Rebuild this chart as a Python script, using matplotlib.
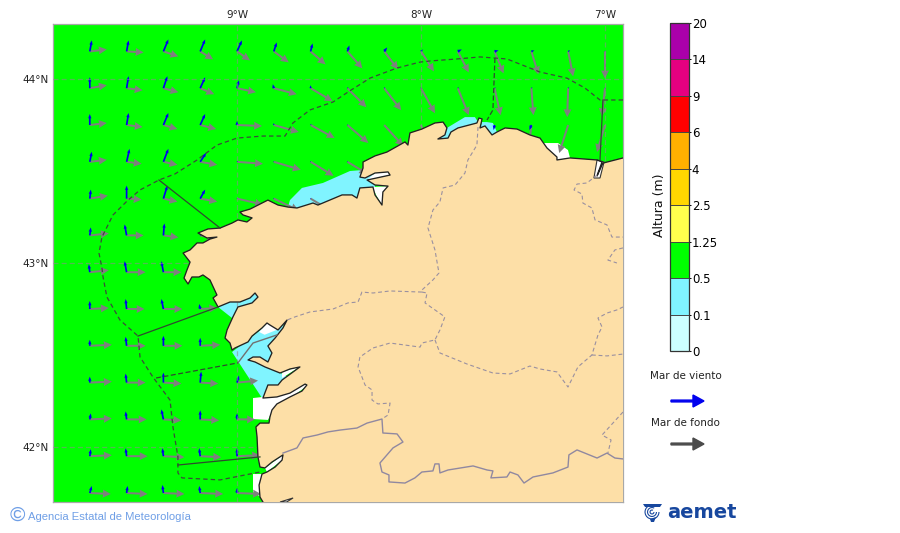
import numpy as np
import matplotlib
matplotlib.use("Agg")
import matplotlib.pyplot as plt
from matplotlib.colors import ListedColormap, BoundaryNorm
from matplotlib.colorbar import ColorbarBase
from matplotlib.patches import Polygon, Wedge, FancyArrow

# ---------- grid of the wave field ----------
grid_lons = [-9.8, -9.6, -9.4, -9.2, -9.0, -8.8, -8.6, -8.4, -8.2, -8.0, -7.8, -7.6, -7.4, -7.2, -7.0]
grid_lats = [44.15, 43.95, 43.75, 43.55, 43.35, 43.15, 42.95, 42.75, 42.55, 42.35, 42.15, 41.95, 41.75]
n = float("nan")

swell_u = [
    [17, 17, 15, 13, 13, 15, 15, 15, 14, 13, 11, 9, 7, 5, 0],
    [17, 16, 15, 14, 19, 23, 22, 19, 17, 14, 11, 6, 2, -1, -3],
    [17, 16, 14, 16, 25, 25, 24, 21, 19, 10, n, n, -3, -9, -8],
    [17, 15, 14, 17, 26, 27, 23, 20],
    [18, 15, 14, 17, 26, 25, 25],
    [19, 17, 15, 15],
    [19, 19, 18],
    [19, 18, 19, 17],
    [22, 19, 19, 20],
    [22, 19, 18, 18, 21],
    [22, 20, 18, 19, 18],
    [22, 21, 21, 21, 23],
    [21, 21, 21, 23, 24],
]
swell_v = [
    [2, -1, -5, -8, -9, -11, -13, -17, -18, -20, -21, -22, -23, -25, -27],
    [3, -2, -4, -6, -4, -6, -13, -19, -22, -25, -27, -27, -27, -29, -28],
    [2, -2, -4, -4, -1, -7, -13, -18, -21, -27, n, n, -28, -28, -27],
    [2, -2, -3, -3, -2, -8, -14, -12],
    [3, -1, -3, -3, -6, -12, -15],
    [2, 0, -2, -3],
    [2, 0, 0],
    [1, 0, 0, 1],
    [1, 0, 0, 1],
    [1, 0, -1, -1, 2],
    [1, 0, -1, -1, 0],
    [1, 0, -1, -1, 1],
    [-1, -1, -1, -1, -1],
]
wind_u = [
    [2, 2, 5, 5, 5, 3, 2, 2, 3, 2, 4, 4, 3, 2, 0.5],
    [0, 2, 4, 5, 2, -1, 0, 1, 1, 0, 1, 1, 1, 1, 0.5],
    [0, 2, 5, 5, 0, 0, 1, 0.5, n, n, n, -1, -2, n, n],
    [2, 3, 5, 6, 1, 0.5, 0.5, 0.5],
    [1, 0, 4, 5, 1, 0.5, 0.5],
    [1, -2, 1, 1],
    [-1, -2, -2],
    [0, -1, -2, -1],
    [0, -1, 0, 0],
    [0, -1, 0, 1, 2],
    [1, -1, -2, 0, 0],
    [1, -1, -1, -1, 0],
    [2, 1, -1, -1, 0],
]
wind_v = [
    [11, 11, 12, 12, 11, 9, 8, 6, 4, 2, 2, 1, 1, 1, 1],
    [11, 12, 12, 11, 8, 4, 3, 1, 1, 1, 1, 1, 1, 1, 1],
    [11, 12, 12, 11, 4, 2, 1, 0.5, n, n, n, -5, -5, n, n],
    [10, 13, 13, 9, 1, 0.5, 0.5, 0.5],
    [9, 13, 13, 9, 1, 0.5, 0.5],
    [8, 11, 12, 2],
    [8, 11, 11],
    [8, 10, 10, 5],
    [6, 9, 10, 8],
    [6, 9, 10, 11, 7],
    [6, 8, 10, 9, 6],
    [7, 8, 8, 8, 8],
    [7, 7, 8, 7, 5],
]

# ---------- geography (degrees) ----------
coast_lon = [-8.859, -8.875, -8.880, -8.864, -8.837, -8.793, -8.755, -8.750, -8.810, -8.848, -8.875, -8.886, -8.891,
             -8.897, -8.875, -8.826, -8.821, -8.810, -8.783, -8.712, -8.647, -8.620, -8.630, -8.712, -8.783, -8.859,
             -8.832, -8.777, -8.755, -8.658, -8.712, -8.766, -8.848, -8.902, -8.940, -8.913, -8.875, -8.832, -8.810,
             -8.832, -8.793, -8.750, -8.728, -8.777, -8.821, -8.837, -8.864, -8.918, -8.940, -9.011, -9.027, -9.038,
             -9.065, -9.054, -9.022, -8.995, -8.918, -8.886, -8.902, -8.929, -8.984, -9.038, -9.103, -9.130, -9.109,
             -9.147, -9.185, -9.207, -9.245, -9.266, -9.288, -9.272, -9.255, -9.293, -9.255, -9.228, -9.217, -9.185,
             -9.147, -9.109, -9.163, -9.212, -9.158, -9.092, -9.027, -8.995, -8.946, -8.918, -8.967, -8.984, -8.929,
             -8.886, -8.832, -8.777, -8.723, -8.674, -8.587, -8.560, -8.495, -8.429, -8.375, -8.348, -8.332, -8.261,
             -8.250, -8.212, -8.207, -8.179, -8.250, -8.293, -8.168, -8.179, -8.250, -8.304, -8.332, -8.315, -8.315,
             -8.250, -8.185, -8.087, -8.071, -8.060, -7.995, -7.924, -7.880, -7.859, -7.870, -7.908, -7.853, -7.837,
             -7.799, -7.696, -7.685, -7.668, -7.679, -7.652, -7.614, -7.587, -7.543, -7.478, -7.408, -7.353, -7.315,
             -7.261, -7.261, -7.190, -7.043, -7.016, -7.038, -7.043, -7.011, -6.902]
coast_lat = [41.701, 41.728, 41.793, 41.853, 41.864, 41.891, 41.929, 41.957, 41.918, 41.886, 41.891, 41.946, 42.054,
             42.109, 42.130, 42.130, 42.163, 42.201, 42.234, 42.272, 42.304, 42.337, 42.342, 42.293, 42.272, 42.266,
             42.337, 42.337, 42.364, 42.435, 42.424, 42.402, 42.435, 42.462, 42.473, 42.489, 42.489, 42.462, 42.511,
             42.549, 42.592, 42.647, 42.690, 42.636, 42.663, 42.674, 42.647, 42.603, 42.571, 42.538, 42.527, 42.565,
             42.592, 42.636, 42.707, 42.761, 42.783, 42.815, 42.837, 42.810, 42.788, 42.788, 42.761, 42.810, 42.826,
             42.908, 42.935, 42.924, 42.924, 42.886, 42.918, 42.962, 43.005, 43.054, 43.071, 43.098, 43.109, 43.109,
             43.130, 43.141, 43.136, 43.163, 43.185, 43.190, 43.217, 43.234, 43.223, 43.245, 43.261, 43.277, 43.293,
             43.315, 43.342, 43.315, 43.304, 43.299, 43.326, 43.315, 43.342, 43.370, 43.370, 43.353, 43.408, 43.413,
             43.370, 43.315, 43.386, 43.418, 43.424, 43.451, 43.478, 43.495, 43.489, 43.462, 43.467, 43.516, 43.549,
             43.582, 43.603, 43.658, 43.641, 43.707, 43.728, 43.761, 43.766, 43.734, 43.696, 43.674, 43.679, 43.712,
             43.734, 43.761, 43.788, 43.783, 43.734, 43.745, 43.696, 43.712, 43.734, 43.728, 43.696, 43.679, 43.625,
             43.576, 43.560, 43.571, 43.560, 43.549, 43.489, 43.473, 43.543, 43.571]

cyan_areas = [
    ([-8.723, -8.712, -8.647, -8.533, -8.386, -8.321, -8.250, -8.250, -8.5],
     [43.304, 43.342, 43.408, 43.435, 43.500, 43.505, 43.478, 43.315, 43.25]),
    ([-9.103, -9.038, -8.886, -8.886, -8.995, -9.027], [42.761, 42.799, 42.842, 42.788, 42.755, 42.701]),
    ([-9.027, -8.929, -8.832, -8.74, -8.793, -8.793, -8.712, -8.821, -8.864],
     [42.516, 42.592, 42.668, 42.68, 42.527, 42.418, 42.375, 42.299, 42.266]),
    ([-7.859, -7.761, -7.707, -7.679, -7.788, -7.897, -7.880], [43.734, 43.793, 43.793, 43.750, 43.696, 43.658, 43.750]),
    ([-7.668, -7.641, -7.609, -7.587, -7.620, -7.679], [43.766, 43.766, 43.761, 43.712, 43.685, 43.734]),
]
white_areas = [
    ([-8.913, -8.859, -8.630, -8.620, -8.810, -8.832, -8.913], [42.266, 42.272, 42.342, 42.332, 42.190, 42.147, 42.152]),
    ([-8.913, -8.864, -8.870, -8.913], [41.853, 41.853, 41.728, 41.755]),
    ([-8.848, -8.750, -8.755, -8.837], [41.886, 41.957, 41.929, 41.864]),
    ([-8.880, -8.832, -8.723, -8.775, -8.850], [42.625, 42.679, 42.701, 42.640, 42.610]),
    ([-8.755, -8.652, -8.755], [42.375, 42.440, 42.408]),
    ([-8.261, -8.179, -8.212, -8.245], [43.413, 43.418, 43.315, 43.370]),
    ([-8.293, -8.168, -8.179, -8.250], [43.451, 43.478, 43.495, 43.489]),
    ([-7.337, -7.255, -7.201, -7.190, -7.261, -7.315], [43.652, 43.652, 43.614, 43.571, 43.560, 43.614]),
]
land_white_lon = [[-7.043, -7.005, -7.027, -7.060], [-8.766, -8.695, -8.730]]
land_white_lat = [[43.560, 43.549, 43.462, 43.462], [41.701, 41.723, 41.701]]

zone_lon = [-6.902, -7.027, -7.109, -7.207, -7.353, -7.533, -7.679, -7.804, -7.951, -8.005, -8.130, -8.277, -8.397,
            -8.478, -8.603, -8.696, -8.739, -8.859, -9.0, -9.109, -9.217, -9.337, -9.424, -9.527, -9.592, -9.674,
            -9.734, -9.750, -9.734, -9.728, -9.707, -9.636, -9.538, -9.527, -9.457, -9.364, -9.348, -9.321, -9.321,
            -9.299, -9.092, -8.875]
zone_lat = [43.886, 43.886, 43.951, 44.005, 44.038, 44.109, 44.120, 44.109, 44.098, 44.092, 44.060, 44.005, 43.929,
            43.875, 43.832, 43.761, 43.690, 43.690, 43.679, 43.641, 43.560, 43.484, 43.451, 43.397, 43.342, 43.261,
            43.141, 43.054, 42.973, 42.924, 42.815, 42.690, 42.603, 42.489, 42.380, 42.255, 42.109, 41.946, 41.859,
            41.832, 41.821, 41.864]
zone_solid = [
    ([-9.424, -9.092], [43.451, 43.190]),
    ([-9.538, -9.103], [42.603, 42.761]),
    ([-9.321, -8.875], [41.902, 41.946]),
    ([-7.011, -7.027], [43.886, 43.560]),
]
zone_dashed = [
    ([-9.440, -8.995], [42.375, 42.457]),
    ([-7.598, -7.609, -7.641], [44.114, 43.832, 43.777]),
]
ria_line_lon = [-8.995, -8.913, -8.783]
ria_line_lat = [42.457, 42.565, 42.609]

borders = [
    ([-7.690, -7.696, -7.745, -7.761, -7.815, -7.880, -7.897, -7.935, -7.962, -7.924, -7.908, -7.902, -7.935, -7.995],
     [43.739, 43.641, 43.560, 43.489, 43.424, 43.408, 43.332, 43.288, 43.190, 43.071, 42.978, 42.946, 42.908, 42.853]),
    ([-7.995, -8.168, -8.261, -8.321, -8.342, -8.397, -8.478, -8.603, -8.685, -8.728],
     [42.842, 42.848, 42.837, 42.842, 42.788, 42.783, 42.750, 42.734, 42.707, 42.690]),
    ([-7.995, -7.967, -7.978, -7.870, -7.897, -7.924, -7.995, -8.005, -8.168, -8.261, -8.332, -8.342, -8.304, -8.266,
      -8.266, -8.234, -8.168, -8.179, -8.212],
     [42.842, 42.837, 42.783, 42.707, 42.636, 42.582, 42.565, 42.543, 42.565, 42.538, 42.489, 42.435, 42.337, 42.310,
      42.255, 42.234, 42.239, 42.174, 42.152]),
    ([-7.924, -7.897, -7.750, -7.609, -7.516, -7.408, -7.353, -7.261, -7.201, -7.147, -7.071, -7.038, -7.016, -7.038,
      -6.989, -6.935, -6.902],
     [42.582, 42.511, 42.451, 42.402, 42.397, 42.440, 42.424, 42.408, 42.326, 42.435, 42.500, 42.609, 42.652, 42.701,
      42.728, 42.745, 42.761]),
    ([-7.071, -6.989, -6.902], [42.500, 42.495, 42.505]),
    ([-7.043, -7.098, -7.152, -7.168, -7.125, -7.120, -7.071, -7.054, -6.989, -6.962, -6.902],
     [43.478, 43.435, 43.429, 43.397, 43.375, 43.326, 43.299, 43.234, 43.207, 43.141, 43.141]),
    ([-6.902, -6.946, -6.984, -6.935], [43.082, 43.071, 43.016, 43.0]),
    ([-6.902, -7.016, -6.967, -6.984], [42.190, 42.065, 42.038, 41.967]),
]
river_lon = [-8.750, -8.674, -8.641, -8.565, -8.505, -8.440, -8.348, -8.293, -8.212, -8.207, -8.130, -8.098, -8.152,
             -8.223, -8.212, -8.174, -8.174, -8.087, -8.033, -7.995, -7.935, -7.924, -7.902, -7.897, -7.853, -7.717,
             -7.641, -7.609, -7.620, -7.533, -7.516, -7.473, -7.440, -7.391, -7.283, -7.201, -7.196, -7.152, -7.043,
             -6.989, -6.946, -6.902]
river_lat = [41.967, 41.995, 42.049, 42.065, 42.082, 42.092, 42.103, 42.130, 42.152, 42.076, 42.071, 42.027, 41.995,
             41.913, 41.864, 41.848, 41.810, 41.804, 41.832, 41.864, 41.870, 41.908, 41.908, 41.859, 41.875, 41.897,
             41.875, 41.870, 41.832, 41.837, 41.864, 41.848, 41.804, 41.837, 41.859, 41.891, 41.957, 41.984, 41.940,
             41.967, 41.940, 41.935]

# ---------- colour scale and labels ----------
height_levels = [0, 0.1, 0.5, 1.25, 2.5, 4, 6, 9, 14, 20]
height_labels = ["0", "0.1", "0.5", "1.25", "2.5", "4", "6", "9", "14", "20"]
height_colors = ["#ccffff", "#80f4ff", "#00ff00", "#ffff4d", "#ffd700", "#ffb000", "#ff0000", "#e60080", "#aa00aa"]
lon_ticks = [-9, -8, -7]
lon_labels = ["9°W", "8°W", "7°W"]
lat_ticks = [42, 43, 44]
lat_labels = ["42°N", "43°N", "44°N"]

LAND = "#fddfa7"
W, H = 900, 533


def rect(l, t, r, b):
    return [l / W, 1 - b / H, (r - l) / W, (b - t) / H]


def pad(rows):
    return np.array([list(r) + [n] * (len(grid_lons) - len(r)) for r in rows], dtype=float)


fig = plt.figure(figsize=(9, 5.33), dpi=100, facecolor="white")
ax = fig.add_axes(rect(53, 24, 623, 502))
ax.set_facecolor("#00ff00")
ax.set_xlim(-10, -6.902)
ax.set_ylim(41.701, 44.299)

for lons, lats in cyan_areas:
    ax.add_patch(Polygon(np.c_[lons, lats], fc=height_colors[1], ec="none", zorder=1))
for lons, lats in white_areas:
    ax.add_patch(Polygon(np.c_[lons, lats], fc="white", ec="none", zorder=1.5))

X, Y = np.meshgrid(grid_lons, grid_lats)
ax.quiver(X, Y, pad(swell_u), pad(swell_v), angles="xy", scale_units="xy", scale=184, units="dots", width=2.0,
          headwidth=4, headlength=4, headaxislength=3.8, minlength=0.5, color="#7f7f7f", zorder=2.2)
ax.quiver(X, Y, pad(wind_u), pad(wind_v), angles="xy", scale_units="xy", scale=184, units="dots", width=1.7,
          headwidth=2.0, headlength=2.6, headaxislength=2.4, minlength=0.5, color="#0000ee", zorder=2.4)

land_xy = np.c_[coast_lon + [-6.902, -8.859], coast_lat + [41.701, 41.701]]
ax.add_patch(Polygon(land_xy, fc=LAND, ec="none", zorder=3))
for lons, lats in zip(land_white_lon, land_white_lat):
    ax.add_patch(Polygon(np.c_[lons, lats], fc="white", ec="#333333", lw=0.8, zorder=3.2))
ax.plot(coast_lon, coast_lat, color="#222222", lw=0.95, zorder=3.5)

for lons, lats in borders:
    ax.plot(lons, lats, color="#9a90a0", lw=0.8, ls=(0, (3.5, 2.5)), zorder=3.6)
ax.plot(river_lon, river_lat, color="#9088a0", lw=1.0, zorder=3.6)

ax.plot(ria_line_lon, ria_line_lat, color="#707070", lw=1.0, zorder=3.7)
ax.plot(zone_lon, zone_lat, color="#3c4a3c", lw=0.9, ls=(0, (3.5, 2.5)), zorder=3.8)
for lons, lats in zone_solid:
    ax.plot(lons, lats, color="#2f4a2f", lw=0.9, zorder=3.8)
for lons, lats in zone_dashed:
    ax.plot(lons, lats, color="#2f4a2f", lw=0.9, ls=(0, (4, 2)), zorder=3.8)

ax.set_xticks(lon_ticks, lon_labels)
ax.set_yticks(lat_ticks, lat_labels)
ax.xaxis.tick_top()
ax.tick_params(length=0, labelsize=7.5, pad=3, colors="#222222")
ax.grid(True, color="#8c8c8c", alpha=0.6, lw=0.9, ls=(0, (4, 2.5)), zorder=4)
ax.set_axisbelow(False)
for s in ax.spines.values():
    s.set_color("#a8a8a8")
    s.set_linewidth(0.9)

# colour bar
cax = fig.add_axes(rect(670, 23, 689, 351))
norm = BoundaryNorm(height_levels, len(height_colors))
cb = ColorbarBase(cax, cmap=ListedColormap(height_colors), norm=norm, spacing="uniform",
                  boundaries=height_levels, ticks=height_levels, drawedges=True)
cb.set_ticklabels(height_labels)
cb.dividers.set_color("#444444")
cb.dividers.set_linewidth(0.7)
cb.outline.set_edgecolor("#333333")
cb.outline.set_linewidth(0.9)
cax.tick_params(length=1.5, width=0.7, labelsize=8.5, pad=0.5)
fig.text(659 / W, 1 - 205 / H, "Altura (m)", rotation=90, ha="center", va="center", fontsize=9, color="#111111")

# sea-type legend
fig.text(685.5 / W, 1 - 376 / H, "Mar de viento", ha="center", va="center", fontsize=7.5, color="#222222")
fig.text(685.5 / W, 1 - 423 / H, "Mar de fondo", ha="center", va="center", fontsize=7.5, color="#222222")
for y, col in ((401, "#0000ee"), (444, "#4a4a4a")):
    fig.add_artist(FancyArrow(671 / W, 1 - y / H, 33 / W, 0, width=1.8 / H, head_width=12 / H, head_length=11 / W,
                              length_includes_head=True, color=col, transform=fig.transFigure))

# footer
blue = "#6f9fe6"
fig.text(9.5 / W, 1 - 515.5 / H, "©", fontsize=15, color=blue, ha="left", va="center", family="Liberation Sans")
fig.text(28 / W, 1 - 516.5 / H, "Agencia Estatal de Meteorología", fontsize=8.15, color=blue, ha="left", va="center",
         family="Liberation Sans")
fig.text(667 / W, 1 - 512 / H, "aemet", fontsize=14, color="#17479e", ha="left", va="center", weight="bold",
         family="DejaVu Sans")
lax = fig.add_axes(rect(641, 502, 664, 524))
lax.set_xlim(0, 23)
lax.set_ylim(22, 0)
lax.axis("off")
for r in (2.5, 5, 7.5):
    lax.add_patch(Wedge((11, 10), r, 0, 300, width=1.1, fc="#17479e", ec="none"))
lax.add_patch(Polygon([[2, 2], [21, 2], [19, 5], [4, 5]], fc="#17479e", ec="none"))
lax.add_patch(Polygon([[9, 17], [15, 15], [13, 20], [10, 20]], fc="#17479e", ec="none"))

fig.savefig("out.png", dpi=100)
